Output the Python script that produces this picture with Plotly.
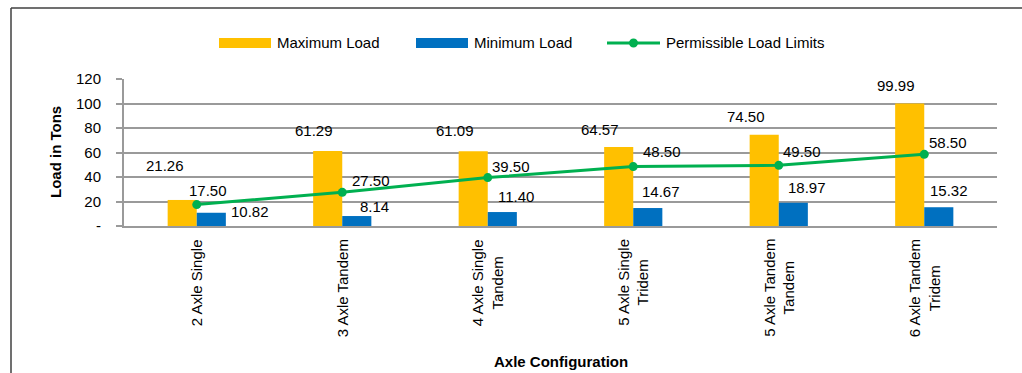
import plotly.graph_objects as go

# ---- data -------------------------------------------------------------
categories = [
    "2 Axle Single",
    "3 Axle Tandem",
    "4 Axle Single Tandem",
    "5 Axle Single Tridem",
    "5 Axle Tandem Tandem",
    "6 Axle Tandem Tridem",
]
category_labels = [
    "2 Axle Single",
    "3 Axle Tandem",
    "4 Axle Single<br>Tandem",
    "5 Axle Single<br>Tridem",
    "5 Axle Tandem<br>Tandem",
    "6 Axle Tandem<br>Tridem",
]
max_load = [21.26, 61.29, 61.09, 64.57, 74.50, 99.99]
min_load = [10.82, 8.14, 11.40, 14.67, 18.97, 15.32]
permissible = [17.50, 27.50, 39.50, 48.50, 49.50, 58.50]

y_ticks = [0, 20, 40, 60, 80, 100, 120]
y_tick_text = ["-", "20", "40", "60", "80", "100", "120"]

# ---- styling ----------------------------------------------------------
YELLOW = "#FFC000"
BLUE = "#0070C0"
GREEN = "#00B050"
GRID = "#9A9A9A"
FONT = "Liberation Sans, Arial, sans-serif"

W, H = 1022, 373
L, R, T, B = 124, 25, 79, 147
PW, PH = W - L - R, H - T - B

# data-label offsets (pixels: right, up) from each mark
max_dx = [-32, -28, -33, -33, -33, -28]
max_dy = [34, 20, 21, 17, 18, 18]
min_dx = [53, 32, 28, 28, 28, 25]
min_dy = [1, 10, 16, 17, 15, 17]
lim_dx = [11, 29, 23, 29, 23, 24]
lim_dy = [14, 12, 11, 15, 14, 12]


def px_x(px):
    return (px - L) / PW


def px_y(py):
    return (T + PH - py) / PH


fig = go.Figure()
fig.add_trace(go.Bar(x=categories, y=max_load, name="Maximum Load",
                     marker=dict(color=YELLOW, line=dict(width=0))))
fig.add_trace(go.Bar(x=categories, y=min_load, name="Minimum Load",
                     marker=dict(color=BLUE, line=dict(width=0))))
fig.add_trace(go.Scatter(x=categories, y=permissible, name="Permissible Load Limits",
                         mode="lines+markers",
                         line=dict(color=GREEN, width=3),
                         marker=dict(color=GREEN, size=9)))

annotations = []
label_font = dict(family=FONT, size=15, color="#000000")

for i, c in enumerate(categories):
    annotations.append(dict(x=c, y=max_load[i], xref="x", yref="y",
                            text=f"{max_load[i]:.2f}", showarrow=False,
                            xanchor="center", yanchor="middle",
                            xshift=max_dx[i], yshift=max_dy[i], font=label_font))
    annotations.append(dict(x=c, y=min_load[i], xref="x", yref="y",
                            text=f"{min_load[i]:.2f}", showarrow=False,
                            xanchor="center", yanchor="middle",
                            xshift=min_dx[i], yshift=min_dy[i], font=label_font))
    annotations.append(dict(x=c, y=permissible[i], xref="x", yref="y",
                            text=f"{permissible[i]:.2f}", showarrow=False,
                            xanchor="center", yanchor="middle",
                            xshift=lim_dx[i], yshift=lim_dy[i], font=label_font))
    # rotated category label below the axis, lines centred on each other
    annotations.append(dict(x=c, y=0, xref="x", yref="y",
                            text=category_labels[i], showarrow=False,
                            textangle=-90, align="center",
                            xanchor="center", yanchor="top", yshift=-11,
                            font=label_font))

# axis titles
annotations.append(dict(x=0.5, y=px_y(361), xref="paper", yref="paper",
                        text="<b>Axle Configuration</b>", showarrow=False,
                        xanchor="center", yanchor="middle",
                        font=dict(family=FONT, size=15, color="#000000")))
annotations.append(dict(x=px_x(55), y=px_y(152), xref="paper", yref="paper",
                        text="<b>Load in Tons</b>", showarrow=False, textangle=-90,
                        xanchor="center", yanchor="middle",
                        font=dict(family=FONT, size=15, color="#000000")))

# legend drawn as swatches + text
shapes = []
leg_y = 43
for x0, x1, col, name in [(219, 271, YELLOW, "Maximum Load"),
                          (416, 468, BLUE, "Minimum Load")]:
    shapes.append(dict(type="rect", xref="paper", yref="paper",
                       x0=px_x(x0), x1=px_x(x1), y0=px_y(leg_y + 5), y1=px_y(leg_y - 5),
                       fillcolor=col, line=dict(width=0)))
    annotations.append(dict(x=px_x(x1 + 4), y=px_y(leg_y), xref="paper", yref="paper",
                            text=name, showarrow=False, xanchor="left", yanchor="middle",
                            font=label_font))
shapes.append(dict(type="line", xref="paper", yref="paper",
                   x0=px_x(607), x1=px_x(660), y0=px_y(leg_y), y1=px_y(leg_y),
                   line=dict(color=GREEN, width=3)))
shapes.append(dict(type="circle", xref="paper", yref="paper",
                   x0=px_x(629), x1=px_x(638), y0=px_y(leg_y + 4.5), y1=px_y(leg_y - 4.5),
                   fillcolor=GREEN, line=dict(width=0)))
annotations.append(dict(x=px_x(664), y=px_y(leg_y), xref="paper", yref="paper",
                        text="Permissible Load Limits", showarrow=False,
                        xanchor="left", yanchor="middle", font=label_font))

# chart frame (left and top edges)
frame = dict(color="#404040", width=1.5)
shapes.append(dict(type="line", xref="paper", yref="paper",
                   x0=px_x(11), x1=px_x(11), y0=px_y(8), y1=px_y(380), line=frame))
shapes.append(dict(type="line", xref="paper", yref="paper",
                   x0=px_x(11), x1=px_x(1030), y0=px_y(8), y1=px_y(8), line=frame))

fig.update_layout(
    width=W, height=H,
    margin=dict(l=L, r=R, t=T, b=B, pad=0),
    paper_bgcolor="white", plot_bgcolor="white",
    barmode="group", bargap=0.6, bargroupgap=0,
    showlegend=False,
    font=dict(family=FONT, size=15, color="#000000"),
    annotations=annotations,
    shapes=shapes,
)
fig.update_xaxes(showticklabels=False, showgrid=False,
                 showline=True, linecolor=GRID, linewidth=2,
                 ticks="", fixedrange=True)
fig.update_yaxes(range=[0, 120], tickvals=y_ticks, ticktext=y_tick_text,
                 showgrid=True, gridcolor=GRID, gridwidth=2,
                 showline=True, linecolor=GRID, linewidth=2,
                 ticks="outside", ticklen=6, tickcolor=GRID, tickwidth=2,
                 ticklabelstandoff=12, zeroline=False,
                 tickfont=dict(family=FONT, size=15, color="#000000"),
                 fixedrange=True)

fig.write_html("out.html")
